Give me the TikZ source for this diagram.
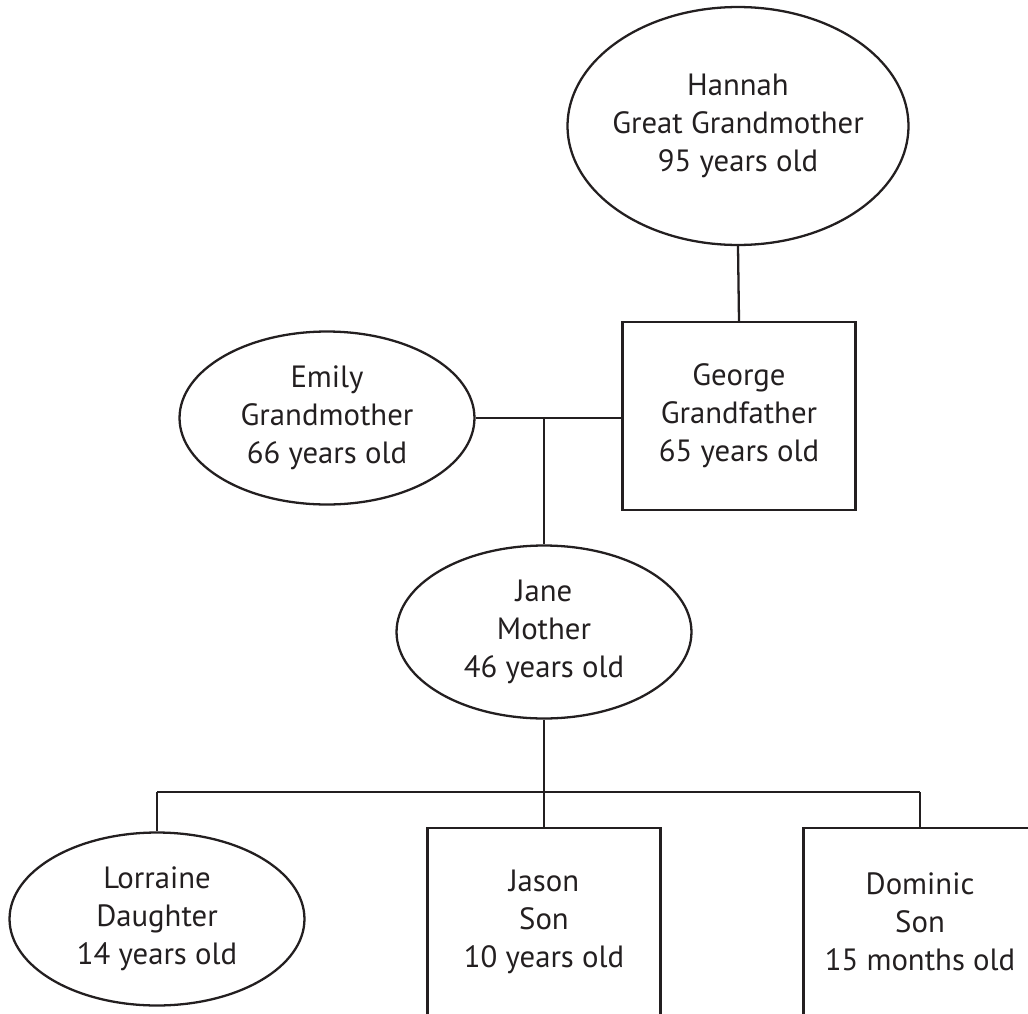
\documentclass[tikz,border=0pt]{standalone}
\usepackage{fontspec}
\setmainfont{PT Sans}
\usetikzlibrary{calc,shapes.geometric}

\definecolor{ink}{RGB}{35,31,32}

\tikzset{
  person/.style={draw=ink, line width=1.3pt, text=ink, align=center,
    font=\fontsize{17.5}{21.6}\selectfont},
  female/.style={person, ellipse, inner xsep=-8pt, inner ysep=0pt,
    minimum width=5.9cm, minimum height=3.46cm},
  male/.style={person, rectangle, inner sep=0pt,
    minimum width=4.66cm, minimum height=3.76cm},
  link/.style={draw=ink, line width=1.3pt}
}

\begin{document}
\begin{tikzpicture}[x=0.02cm, y=-0.02cm]
                      \clip (0,0) rectangle (1028,1014);

                      \node[female, minimum width=6.82cm, minimum height=4.76cm] (hannah) at (738,126)
                          {Hannah\\Great Grandmother\\95 years old};
                      \node[male]   (george)   at (739,416) {George\\Grandfather\\65 years old};
                      \node[female] (emily)    at (327,418) {Emily\\Grandmother\\66 years old};
                      \node[female] (jane)     at (544,632) {Jane\\Mother\\46 years old};
                      \node[female] (lorraine) at (157,919) {Lorraine\\Daughter\\14 years old};
                      \node[male]   (jason)    at (544,922) {Jason\\Son\\10 years old};
                      \node[male]   (dominic)  at (920,922) {Dominic\\Son\\15 months old};

                      \coordinate (couple) at (544,418);
                      \coordinate (kids)   at (544,792);

                      \path[link] (hannah.south)           edge (george.north)
                      (emily.east)                         edge (emily.east -| george.west)
                      (couple)                             edge (jane.north)
                      (jane.south)                         edge (jason.north)
                      (lorraine.north |- kids)             edge (dominic.north |- kids)
                      (lorraine.north |- kids)             edge (lorraine.north)
                      (dominic.north |- kids)              edge (dominic.north);
                  \end{tikzpicture}
\end{document}
